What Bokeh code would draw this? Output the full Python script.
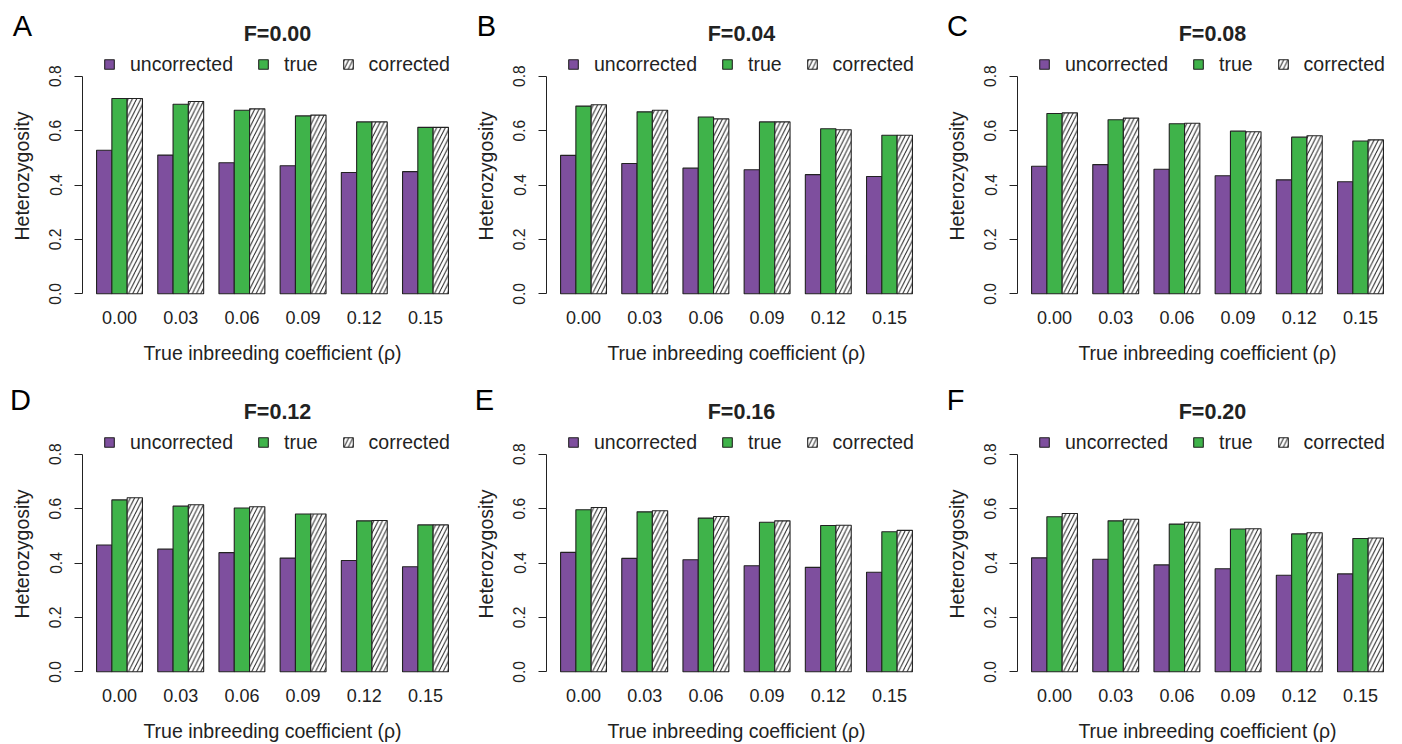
import math
from bokeh.plotting import figure
from bokeh.models import Label, Legend, LegendItem, FixedTicker, Range1d
from bokeh.layouts import column, row
from bokeh.embed import file_html
from bokeh.resources import INLINE

# ---------------- data ----------------
rho_labels = ["0.00", "0.03", "0.06", "0.09", "0.12", "0.15"]
series_names = ["uncorrected", "true", "corrected"]
panel_letters = ["A", "B", "C", "D", "E", "F"]
panel_titles = ["F=0.00", "F=0.04", "F=0.08", "F=0.12", "F=0.16", "F=0.20"]
x_title = "True inbreeding coefficient (\u03c1)"
y_title = "Heterozygosity"

uncorrected_A = [0.528, 0.510, 0.482, 0.471, 0.446, 0.449]
true_A        = [0.718, 0.697, 0.675, 0.654, 0.632, 0.612]
corrected_A   = [0.718, 0.707, 0.680, 0.657, 0.632, 0.612]

uncorrected_B = [0.509, 0.479, 0.462, 0.456, 0.438, 0.431]
true_B        = [0.690, 0.669, 0.650, 0.632, 0.607, 0.583]
corrected_B   = [0.695, 0.675, 0.643, 0.632, 0.603, 0.583]

uncorrected_C = [0.469, 0.475, 0.458, 0.434, 0.419, 0.412]
true_C        = [0.663, 0.640, 0.625, 0.598, 0.576, 0.562]
corrected_C   = [0.665, 0.646, 0.627, 0.596, 0.581, 0.566]

uncorrected_D = [0.466, 0.451, 0.438, 0.418, 0.409, 0.386]
true_D        = [0.632, 0.609, 0.602, 0.580, 0.555, 0.540]
corrected_D   = [0.640, 0.614, 0.607, 0.580, 0.556, 0.540]

uncorrected_E = [0.439, 0.417, 0.412, 0.390, 0.384, 0.366]
true_E        = [0.596, 0.588, 0.565, 0.550, 0.538, 0.515]
corrected_E   = [0.604, 0.592, 0.571, 0.555, 0.539, 0.520]

uncorrected_F = [0.419, 0.414, 0.393, 0.379, 0.355, 0.360]
true_F        = [0.570, 0.555, 0.543, 0.525, 0.507, 0.490]
corrected_F   = [0.582, 0.561, 0.550, 0.526, 0.511, 0.492]

panel_data = [
    (uncorrected_A, true_A, corrected_A),
    (uncorrected_B, true_B, corrected_B),
    (uncorrected_C, true_C, corrected_C),
    (uncorrected_D, true_D, corrected_D),
    (uncorrected_E, true_E, corrected_E),
    (uncorrected_F, true_F, corrected_F),
]

# ---------------- style / layout ----------------
PURPLE = "#7e4f9e"
GREEN = "#3fb34a"
EDGE = "#222222"
TXT = "#222222"
FONT = "Liberation Sans"

PW, PH = 380.0, 235.0            # plot region size in px
X0, X1 = 0.08, 24.92             # plot region in data units (R barplot style)
Y0, Y1 = -0.032, 0.832
col_w = [464, 471, 466]
col_bl = [82, 82, 82]
row_h = [378, 365]
row_bt = [67, 67]
letter_dy = [42, 46]
letter_dx = [-60, -62]


def make_panel(k):
    ci, ri = k % 3, k // 3
    W, H = col_w[ci], row_h[ri]
    bl, bt = col_bl[ci], row_bt[ri]
    br = W - bl - PW
    bb = H - bt - PH
    ppx = PW / (X1 - X0)
    ppy = PH / (Y1 - Y0)
    unc, tru, cor = panel_data[k]
    p = figure(
        width=W, height=H, min_border=0,
        x_range=Range1d(X0 - bl / ppx, X1 + br / ppx),
        y_range=Range1d(Y0 - bb / ppy, Y1 + bt / ppy),
        output_backend="svg", toolbar_location=None,
        background_fill_color="white", border_fill_color="white",
    )
    p.outline_line_color = None
    p.grid.visible = False

    n = len(rho_labels)
    renderers = []
    for j, (vals, col) in enumerate(zip((unc, tru, cor), (PURPLE, GREEN, "white"))):
        xs = [1 + 4 * i + j + 0.5 for i in range(n)]
        kw = dict(x=xs, top=vals, width=1.0, bottom=0,
                  fill_color=col, line_color=EDGE, line_width=1.1)
        if j == 2:
            kw.update(hatch_pattern="/", hatch_color=EDGE, hatch_scale=8.5, hatch_weight=1.0)
        r = p.vbar(**kw)
        renderers.append(r)

    # x axis: group labels only, placed at the bottom of the plot region
    centers = [1 + 4 * i + 1.5 for i in range(n)]
    xa = p.xaxis[0]
    xa.fixed_location = Y0
    xa.bounds = (X0, X1)
    xa.ticker = FixedTicker(ticks=centers)
    xa.major_label_overrides = {c: lab for c, lab in zip(centers, rho_labels)}
    xa.axis_line_color = None
    xa.major_tick_line_color = None
    xa.minor_tick_line_color = None
    xa.major_tick_out = 0
    xa.major_tick_in = 0
    xa.major_label_standoff = 8
    xa.major_label_text_font = FONT
    xa.major_label_text_font_size = "18px"
    xa.major_label_text_color = TXT

    # y axis at the left edge of the plot region
    yt = [0.0, 0.2, 0.4, 0.6, 0.8]
    ya = p.yaxis[0]
    ya.fixed_location = X0
    ya.ticker = FixedTicker(ticks=yt)
    ya.major_label_overrides = {t: f"{t:.1f}" for t in yt}
    ya.bounds = (0, 0.8)
    ya.axis_line_color = EDGE
    ya.major_tick_line_color = EDGE
    ya.minor_tick_line_color = None
    ya.major_tick_out = 8
    ya.major_tick_in = 0
    ya.major_label_orientation = "vertical"
    ya.major_label_standoff = 13
    ya.major_label_text_font = FONT
    ya.major_label_text_font_size = "15.6px"
    ya.major_label_text_color = TXT

    # axis titles
    p.add_layout(Label(x=bl + PW / 2, y=bb - 50.6, x_units="screen", y_units="screen",
                       text=x_title, text_font=FONT, text_font_size="19.5px",
                       text_color=TXT, text_align="center", text_baseline="middle"))
    p.add_layout(Label(x=bl - 61, y=bb + (0.4 - Y0) * ppy + 9, x_units="screen", y_units="screen",
                       text=y_title, angle=math.pi / 2, text_font=FONT, text_font_size="19.5px",
                       text_color=TXT, text_align="center", text_baseline="middle"))

    # legend (just above the plot region)
    top_screen = H - bt  # plot-region top, in screen px from bottom
    items = [LegendItem(label=nm, renderers=[r]) for nm, r in zip(series_names, renderers)]
    leg = Legend(items=items, orientation="horizontal", location=(bl + 21, top_screen + 2.3 - 11),
                 border_line_color=None, background_fill_alpha=0.0,
                 padding=0, margin=0, glyph_width=12, glyph_height=12,
                 label_standoff=15, spacing=24, label_height=12,
                 label_text_font=FONT, label_text_font_size="19.5px",
                 label_text_color=TXT, label_text_baseline="middle")
    p.add_layout(leg)

    # title and panel letter
    p.add_layout(Label(x=bl + PW / 2 + 5, y=top_screen + 34, x_units="screen", y_units="screen",
                       text=panel_titles[k], text_font=FONT, text_font_size="21.5px",
                       text_font_style="bold", text_color=TXT,
                       text_align="center", text_baseline="middle"))
    p.add_layout(Label(x=bl + letter_dx[ri], y=top_screen + letter_dy[ri], x_units="screen", y_units="screen",
                       text=panel_letters[k], text_font=FONT, text_font_size="29px",
                       text_color="black", text_align="center", text_baseline="middle"))
    return p


panels = [make_panel(k) for k in range(6)]
layout = column(row(*panels[:3]), row(*panels[3:]))

open("out.html", "w").write(file_html(layout, INLINE))
